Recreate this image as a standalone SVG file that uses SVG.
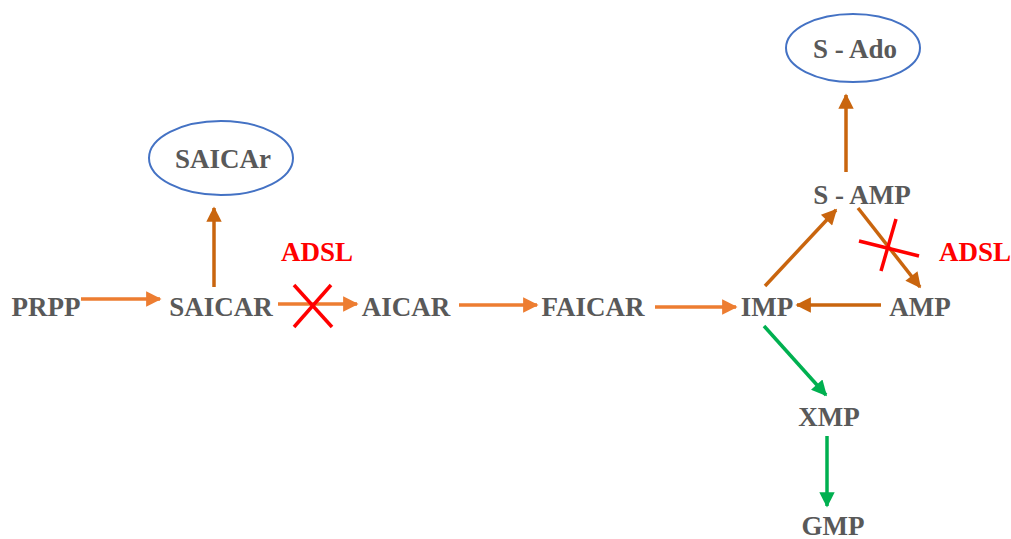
<svg xmlns="http://www.w3.org/2000/svg" width="1011" height="539" viewBox="0 0 1011 539">
<style>
text{font-family:'Liberation Serif','Times New Roman','DejaVu Serif',serif;font-weight:700;font-size:27px;text-anchor:middle}
.t{fill:#595959}
.r{fill:#FF0000}
.o{stroke:#ED7D31;stroke-width:3.5;fill:none}
.d{stroke:#C9650E;stroke-width:3.5;fill:none}
.g{stroke:#00B050;stroke-width:3.5;fill:none}
.x{stroke:#FF0000;stroke-width:3.5;fill:none}
.e{fill:none;stroke:#4472C4;stroke-width:2}
</style>
<defs>
<marker id="ao" viewBox="0 0 10 10" refX="9" refY="5" markerWidth="5" markerHeight="4.4" markerUnits="strokeWidth" orient="auto"><path d="M0,0L10,5L0,10z" fill="#ED7D31"/></marker>
<marker id="ad" viewBox="0 0 10 10" refX="9" refY="5" markerWidth="5" markerHeight="4.4" markerUnits="strokeWidth" orient="auto"><path d="M0,0L10,5L0,10z" fill="#C9650E"/></marker>
<marker id="ag" viewBox="0 0 10 10" refX="9" refY="5" markerWidth="5" markerHeight="4.4" markerUnits="strokeWidth" orient="auto"><path d="M0,0L10,5L0,10z" fill="#00B050"/></marker>
</defs>
<g id="connectors">
<line class="o" x1="81" y1="299" x2="160" y2="299" marker-end="url(#ao)"/>
<line class="o" x1="278" y1="304" x2="357" y2="304" marker-end="url(#ao)"/>
<line class="o" x1="459" y1="305" x2="537" y2="305" marker-end="url(#ao)"/>
<line class="o" x1="655" y1="307" x2="736" y2="307" marker-end="url(#ao)"/>
<line class="d" x1="881" y1="305" x2="797" y2="305" marker-end="url(#ad)"/>
<line class="d" x1="765" y1="286" x2="836" y2="210" marker-end="url(#ad)"/>
<line class="d" x1="858" y1="208" x2="920" y2="287" marker-end="url(#ad)"/>
<line class="d" x1="846" y1="172" x2="846" y2="95" marker-end="url(#ad)"/>
<line class="d" x1="214" y1="287" x2="214" y2="208" marker-end="url(#ad)"/>
<line class="g" x1="764" y1="326" x2="826" y2="395" marker-end="url(#ag)"/>
<line class="g" x1="827" y1="436" x2="827" y2="506" marker-end="url(#ag)"/>
</g>
<g id="inhibit1"><line class="x" x1="294" y1="285" x2="332" y2="327"/><line class="x" x1="331" y1="285" x2="294" y2="327"/></g>
<g id="inhibit2"><line class="x" x1="859" y1="241" x2="919" y2="256"/><line class="x" x1="896" y1="219" x2="881" y2="271"/></g>
<g id="PRPP"><text class="t" x="46" y="316">PRPP</text></g>
<g id="SAICAR"><text class="t" x="221" y="316">SAICAR</text></g>
<g id="AICAR"><text class="t" x="406" y="316">AICAR</text></g>
<g id="FAICAR"><text class="t" x="593" y="316">FAICAR</text></g>
<g id="IMP"><text class="t" x="767" y="316">IMP</text></g>
<g id="AMP"><text class="t" x="920" y="316">AMP</text></g>
<g id="SAMP"><text class="t" x="862" y="204">S - AMP</text></g>
<g id="XMP"><text class="t" x="829" y="426">XMP</text></g>
<g id="GMP"><text class="t" x="833" y="535">GMP</text></g>
<g id="SAICAr"><ellipse class="e" cx="221" cy="158" rx="72" ry="37"/><text class="t" x="223" y="168">SAICAr</text></g>
<g id="SAdo"><ellipse class="e" cx="853" cy="48" rx="67" ry="34"/><text class="t" x="855" y="58">S - Ado</text></g>
<g id="ADSL1"><text class="r" x="317" y="261">ADSL</text></g>
<g id="ADSL2"><text class="r" x="975" y="261">ADSL</text></g>
</svg>
